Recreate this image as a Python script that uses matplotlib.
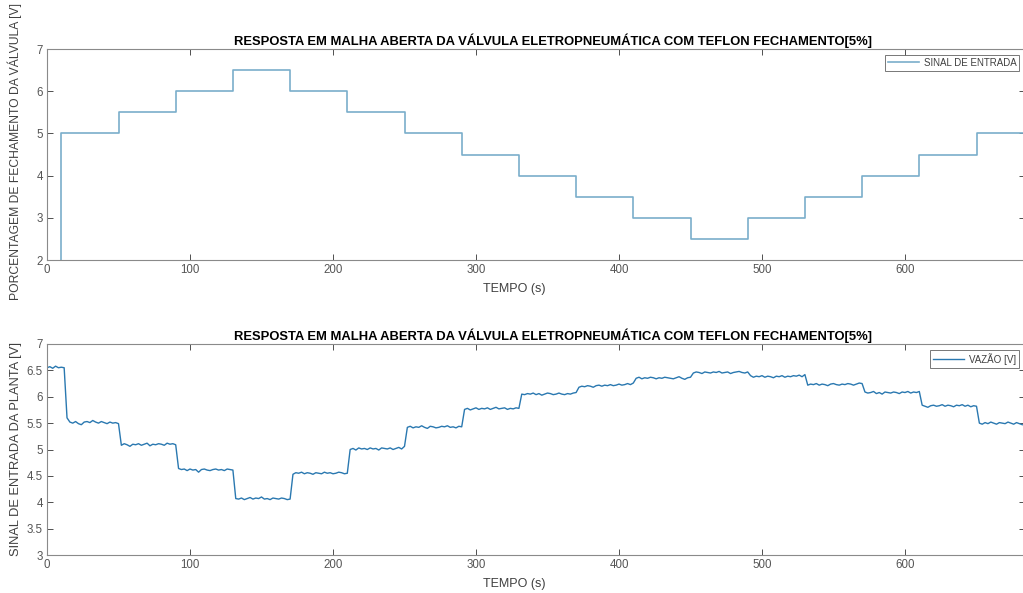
import numpy as np
import matplotlib.pyplot as plt

plt.rcParams['font.family'] = ['Liberation Sans', 'DejaVu Sans']

# sinal de entrada (degraus), tempo de inicio de cada degrau [s]
entrada_tempos = [0, 10, 50, 90, 130, 170, 210, 250, 290, 330, 370, 410, 450, 490, 530, 570, 610, 650, 684]
entrada_valores = [0, 5, 5.5, 6, 6.5, 6, 5.5, 5, 4.5, 4, 3.5, 3, 2.5, 3, 3.5, 4, 4.5, 5, 5]

vazao_tempo = np.arange(0, 684, 2)
vazao = [
    6.55, 6.57, 6.54, 6.58, 6.55, 6.56, 6.55,
    5.60, 5.52, 5.50, 5.53, 5.49, 5.47, 5.52, 5.53, 5.51, 5.55, 5.52, 5.50, 5.53, 5.51, 5.49, 5.52, 5.50, 5.51, 5.49,
    5.08, 5.11, 5.09, 5.06, 5.10, 5.09, 5.11, 5.08, 5.10, 5.12, 5.07, 5.10, 5.09, 5.11, 5.10, 5.08, 5.12, 5.10, 5.11, 5.09,
    4.64, 4.62, 4.63, 4.60, 4.63, 4.61, 4.62, 4.57, 4.62, 4.63, 4.61, 4.60, 4.62, 4.63, 4.61, 4.62, 4.60, 4.63, 4.62, 4.61,
    4.07, 4.06, 4.08, 4.05, 4.07, 4.09, 4.06, 4.08, 4.07, 4.10, 4.06, 4.07, 4.05, 4.08, 4.07, 4.06, 4.08, 4.07, 4.05, 4.06,
    4.53, 4.56, 4.55, 4.57, 4.54, 4.56, 4.55, 4.53, 4.56, 4.55, 4.54, 4.57, 4.55, 4.56, 4.54, 4.55, 4.57, 4.56, 4.54, 4.55,
    5.00, 5.02, 4.99, 5.03, 5.01, 5.02, 5.00, 5.03, 5.01, 5.02, 4.99, 5.03, 5.02, 5.01, 5.03, 5.00, 5.02, 5.04, 5.01, 5.06,
    5.42, 5.44, 5.41, 5.43, 5.42, 5.45, 5.42, 5.40, 5.44, 5.43, 5.41, 5.42, 5.44, 5.43, 5.45, 5.42, 5.43, 5.41, 5.44, 5.43,
    5.76, 5.78, 5.75, 5.77, 5.79, 5.76, 5.78, 5.77, 5.79, 5.76, 5.78, 5.80, 5.77, 5.78, 5.79, 5.76, 5.78, 5.77, 5.79, 5.78,
    6.05, 6.04, 6.06, 6.05, 6.07, 6.04, 6.06, 6.03, 6.05, 6.07, 6.06, 6.04, 6.05, 6.07, 6.05, 6.04, 6.06, 6.05, 6.07, 6.08,
    6.18, 6.20, 6.19, 6.21, 6.20, 6.18, 6.21, 6.22, 6.20, 6.22, 6.21, 6.23, 6.21, 6.22, 6.24, 6.22, 6.23, 6.25, 6.23, 6.26,
    6.35, 6.37, 6.34, 6.36, 6.35, 6.37, 6.36, 6.34, 6.36, 6.35, 6.37, 6.36, 6.35, 6.34, 6.36, 6.38, 6.35, 6.33, 6.36, 6.37,
    6.45, 6.47, 6.46, 6.44, 6.47, 6.46, 6.45, 6.47, 6.46, 6.48, 6.45, 6.46, 6.47, 6.44, 6.46, 6.47, 6.48, 6.46, 6.45, 6.47,
    6.40, 6.37, 6.39, 6.38, 6.40, 6.37, 6.39, 6.38, 6.36, 6.39, 6.38, 6.40, 6.37, 6.39, 6.38, 6.40, 6.39, 6.41, 6.38, 6.42,
    6.22, 6.24, 6.23, 6.25, 6.22, 6.24, 6.23, 6.21, 6.24, 6.25, 6.23, 6.22, 6.24, 6.23, 6.25, 6.24, 6.22, 6.24, 6.26, 6.25,
    6.09, 6.07, 6.08, 6.10, 6.06, 6.08, 6.05, 6.09, 6.08, 6.07, 6.09, 6.08, 6.06, 6.09, 6.08, 6.10, 6.07, 6.09, 6.08, 6.10,
    5.84, 5.82, 5.80, 5.83, 5.84, 5.82, 5.83, 5.85, 5.82, 5.84, 5.83, 5.81, 5.84, 5.83, 5.85, 5.82, 5.84, 5.81, 5.83, 5.82,
    5.50, 5.48, 5.51, 5.49, 5.52, 5.50, 5.48, 5.51, 5.50, 5.49, 5.52, 5.50, 5.48, 5.51, 5.49, 5.47,
]

titulo = 'RESPOSTA EM MALHA ABERTA DA VÁLVULA ELETROPNEUMÁTICA COM TEFLON FECHAMENTO[5%]'
cor_eixo = '#8a8a8a'
cor_texto = '#404040'

fig = plt.figure(figsize=(10.23, 5.93), dpi=100)
W, H = 1023, 593
largura = (1025 - 47) / W
ax1 = fig.add_axes([47 / W, 1 - 260 / H, largura, (260 - 49) / H])
ax2 = fig.add_axes([47 / W, 1 - 555 / H, largura, (555 - 344) / H])

ax1.plot(entrada_tempos, entrada_valores, drawstyle='steps-post', color='#7aaecb', lw=1.2,
         label='SINAL DE ENTRADA')
ax1.set_ylim(2, 7)
ax1.set_yticks([2, 3, 4, 5, 6, 7])
ax1.set_ylabel('PORCENTAGEM DE FECHAMENTO DA VÁLVULA [V]', fontsize=8.7, color=cor_texto)
ax1.yaxis.set_label_coords(-0.026, 0.515)

ax2.plot(vazao_tempo, vazao, color='#2a78b0', lw=1.0, label='VAZÃO [V]')
ax2.set_ylim(3, 7)
ax2.set_yticks(np.arange(3, 7.01, 0.5))
ax2.set_yticklabels(['3', '3.5', '4', '4.5', '5', '5.5', '6', '6.5', '7'])
ax2.set_ylabel('SINAL DE ENTRADA DA PLANTA [V]', fontsize=9.3, color=cor_texto)
ax2.yaxis.set_label_coords(-0.026, 0.5)

for ax in (ax1, ax2):
    ax.set_xlim(0, (1025 - 47) / 1.43)
    ax.set_xticks(range(0, 700, 100))
    ax.set_xlabel('TEMPO (s)', fontsize=9, color=cor_texto)
    ax.xaxis.set_label_coords(0.478, -0.11)
    ax.set_title(titulo, fontsize=9.4, fontweight='bold', pad=3, x=0.517)
    ax.tick_params(direction='in', length=4, width=0.6, color='#333333', labelsize=8.3,
                   labelcolor='#555555', top=True, right=True, pad=3)
    for s in ax.spines.values():
        s.set_color(cor_eixo)
        s.set_linewidth(0.8)
    leg = ax.legend(loc='upper right', fontsize=7, frameon=True, fancybox=False,
                    borderaxespad=0.6, handlelength=3.2, borderpad=0.3, handletextpad=0.5)
    leg.get_frame().set_edgecolor('#555555')
    leg.get_frame().set_linewidth(0.7)
    for t in leg.get_texts():
        t.set_color(cor_texto)

fig.savefig('out.png', dpi=100)
